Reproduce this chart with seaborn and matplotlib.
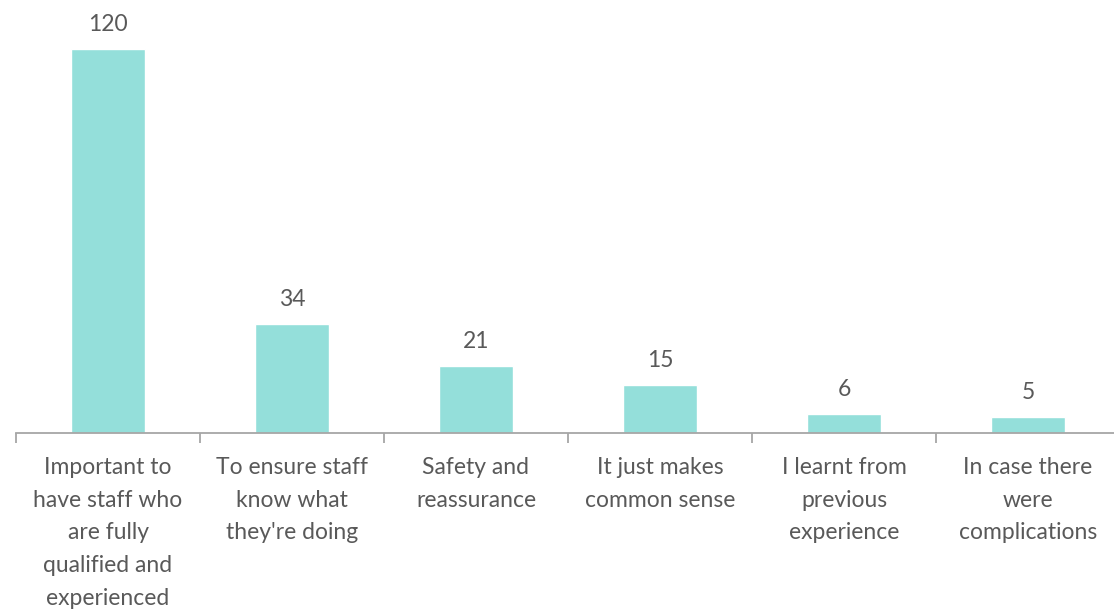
import matplotlib
matplotlib.use("Agg")
import matplotlib.pyplot as plt
import seaborn as sns
import pandas as pd
from matplotlib.ticker import FixedLocator

categories = [
    "Important to\nhave staff who\nare fully\nqualified and\nexperienced",
    "To ensure staff\nknow what\nthey're doing",
    "Safety and\nreassurance",
    "It just makes\ncommon sense",
    "I learnt from\nprevious\nexperience",
    "In case there\nwere\ncomplications",
]
counts = [120, 34, 21, 15, 6, 5]

df = pd.DataFrame({"reason": categories, "count": counts})

sns.set_theme(style="white")
plt.rcParams["font.family"] = ["Lato", "DejaVu Sans"]

W, H = 1114, 614
fig = plt.figure(figsize=(W / 100, H / 100), dpi=100)
# axes spans x 16..1120 px, y 10..433 px
ax = fig.add_axes([16 / W, (H - 433) / H, 1104 / W, 423 / H])

bar_color = "#94DFDA"
text_color = "#595959"
axis_color = "#A6A6A6"
font_size = 16.5

sns.barplot(data=df, x="reason", y="count", color=bar_color, width=0.4,
            saturation=1, ax=ax)

ax.set_xlim(-0.5, 5.5)
ax.set_ylim(0, 423 / 3.2)

for i, v in enumerate(counts):
    ax.annotate(str(v), xy=(i, v), xytext=(0, 10), textcoords="offset points",
                ha="center", va="bottom", fontsize=font_size, color=text_color)

for s in ["top", "right", "left"]:
    ax.spines[s].set_visible(False)
ax.spines["bottom"].set_color(axis_color)
ax.spines["bottom"].set_linewidth(1.3)

ax.set_yticks([])
ax.set_xlabel("")
ax.set_ylabel("")
ax.xaxis.set_minor_locator(FixedLocator([i - 0.5 for i in range(7)]))
ax.tick_params(axis="x", which="major", length=0, pad=17, labelsize=font_size,
               labelcolor=text_color)
ax.tick_params(axis="x", which="minor", length=7, width=1.3, color=axis_color,
               direction="out", bottom=True)
for lbl in ax.get_xticklabels():
    lbl.set_linespacing(1.7)
    lbl.set_va("top")

fig.savefig("out.png", dpi=100)
